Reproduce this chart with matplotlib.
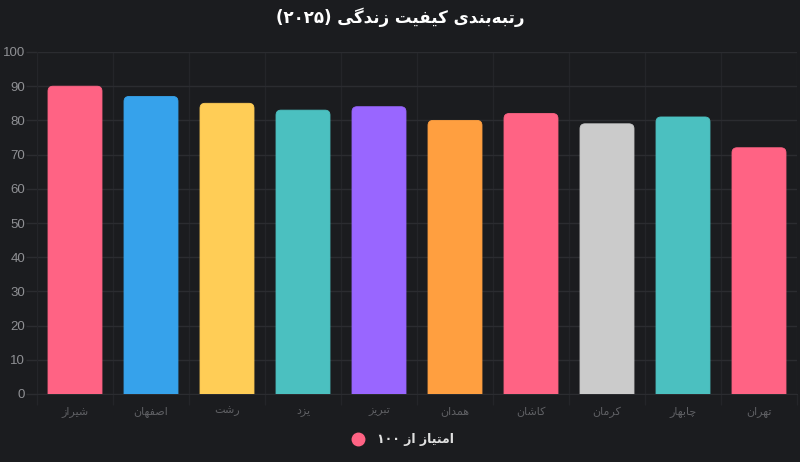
import re
import matplotlib
matplotlib.use("Agg")
import matplotlib.pyplot as plt
from matplotlib.path import Path
from matplotlib.patches import PathPatch
from matplotlib.lines import Line2D

cities = ["شیراز", "اصفهان", "رشت", "یزد", "تبریز", "همدان", "کاشان", "کرمان", "چابهار", "تهران"]
scores = [90, 87, 85, 83, 84, 80, 82, 79, 81, 72]
bar_colors = ["#ff6384", "#36a2eb", "#ffcd56", "#4bc0c0", "#9966ff",
              "#ff9f40", "#ff6384", "#cbcbcb", "#4bc0c0", "#ff6384"]
title = "رتبه‌بندی کیفیت زندگی (۲۰۲۵)"
legend_label = "امتیاز از ۱۰۰"
yticks = [0, 10, 20, 30, 40, 50, 60, 70, 80, 90, 100]

# matplotlib has no arabic shaping, so pick presentation forms by hand
# (isolated, final, initial, medial) -- two entries means right-joining only
FORMS = {
    "ا": ("\ufe8d", "\ufe8e"),
    "ب": ("\ufe8f", "\ufe90", "\ufe91", "\ufe92"),
    "ت": ("\ufe95", "\ufe96", "\ufe97", "\ufe98"),
    "د": ("\ufea9", "\ufeaa"),
    "ر": ("\ufead", "\ufeae"),
    "ز": ("\ufeaf", "\ufeb0"),
    "ش": ("\ufeb5", "\ufeb6", "\ufeb7", "\ufeb8"),
    "ص": ("\ufeb9", "\ufeba", "\ufebb", "\ufebc"),
    "ف": ("\ufed1", "\ufed2", "\ufed3", "\ufed4"),
    "م": ("\ufee1", "\ufee2", "\ufee3", "\ufee4"),
    "ن": ("\ufee5", "\ufee6", "\ufee7", "\ufee8"),
    "ه": ("\ufee9", "\ufeea", "\ufeeb", "\ufeec"),
    "ی": ("\ufbfc", "\ufbfd", "\ufbfe", "\ufbff"),
    "ک": ("\ufb8e", "\ufb8f", "\ufb90", "\ufb91"),
    "گ": ("\ufb92", "\ufb93", "\ufb94", "\ufb95"),
    "چ": ("\ufb7a", "\ufb7b", "\ufb7c", "\ufb7d"),
}


def shape(s):
    out = []
    for i, c in enumerate(s):
        if c not in FORMS:
            out.append(c)
            continue
        f = FORMS[c]
        prev = s[i - 1] if i > 0 else ""
        nxt = s[i + 1] if i + 1 < len(s) else ""
        p = prev in FORMS and len(FORMS[prev]) == 4
        n = nxt in FORMS and len(f) == 4
        if p and n:
            out.append(f[3])
        elif p:
            out.append(f[1])
        elif n:
            out.append(f[2])
        else:
            out.append(f[0])
    return "".join(out)


def rtl(s):
    t = shape(s).replace("\u200c", "")[::-1]
    t = re.sub(r"[0-9\u06f0-\u06f9]+", lambda m: m.group(0)[::-1], t)
    return t.translate(str.maketrans("()", ")("))


bg = "#1b1c1f"
grid = "#2b2c30"
vgrid = "#242529"

plt.rcParams["font.family"] = ["DejaVu Sans"]
fig = plt.figure(figsize=(8, 4.62), dpi=100, facecolor=bg)
ax = fig.add_axes([37 / 800, 68 / 462, 760 / 800, 342 / 462], facecolor=bg)

x = list(range(len(cities)))
bars = ax.bar(x, scores, width=0.71, color=bar_colors)

# swap plain rectangles for ones with rounded top corners
rx = 5 / 76
ry = 5 * 100 / 342
for b in bars:
    x0, w, h = b.get_x(), b.get_width(), b.get_height()
    x1 = x0 + w
    verts = [(x0, 0), (x0, h - ry), (x0, h), (x0 + rx, h), (x1 - rx, h),
             (x1, h), (x1, h - ry), (x1, 0), (x0, 0)]
    codes = [Path.MOVETO, Path.LINETO, Path.CURVE3, Path.CURVE3, Path.LINETO,
             Path.CURVE3, Path.CURVE3, Path.LINETO, Path.CLOSEPOLY]
    ax.add_patch(PathPatch(Path(verts, codes), facecolor=b.get_facecolor(),
                           edgecolor=b.get_facecolor(), lw=0.6, zorder=3))
    b.remove()

ax.set_xlim(-0.5, len(cities) - 0.5)
ax.set_ylim(0, 100)
ax.set_yticks(yticks)
ax.set_xticks(x)
ax.set_xticklabels([rtl(c) for c in cities], fontsize=8, color="#5f6064")
ax.set_xticks([i - 0.5 for i in range(len(cities) + 1)], minor=True)
ax.tick_params(axis="x", which="major", length=0, pad=9)
ax.tick_params(axis="x", which="minor", length=8, color=vgrid, width=1)
ax.tick_params(axis="y", length=8, color=grid, width=1, pad=0.5,
               labelsize=9.5, labelcolor="#8f9094")
for lab in ax.get_yticklabels():
    lab.set_fontfamily("Liberation Sans")
ax.grid(axis="y", color=grid, lw=1, zorder=0)
ax.grid(axis="x", which="minor", color=vgrid, lw=1, zorder=0)
ax.set_axisbelow(True)
for side in ["top", "right"]:
    ax.spines[side].set_visible(False)
ax.spines["left"].set_color(vgrid)
ax.spines["bottom"].set_color(grid)

fig.text(0.5, 1 - 17 / 462, rtl(title), ha="center", va="center",
         fontsize=12, fontweight="bold", color="#ffffff")

handle = Line2D([], [], marker="o", ls="none", markersize=9,
                markerfacecolor="#ff6384", markeredgecolor="#ff6384")
leg = fig.legend([handle], [rtl(legend_label)], loc="center",
                 bbox_to_anchor=(0.5, 22 / 462), frameon=False,
                 handletextpad=0.5, prop={"size": 9, "weight": "bold"})
for t in leg.get_texts():
    t.set_color("#e0e0e0")

fig.savefig("out.png", dpi=100, facecolor=bg)
